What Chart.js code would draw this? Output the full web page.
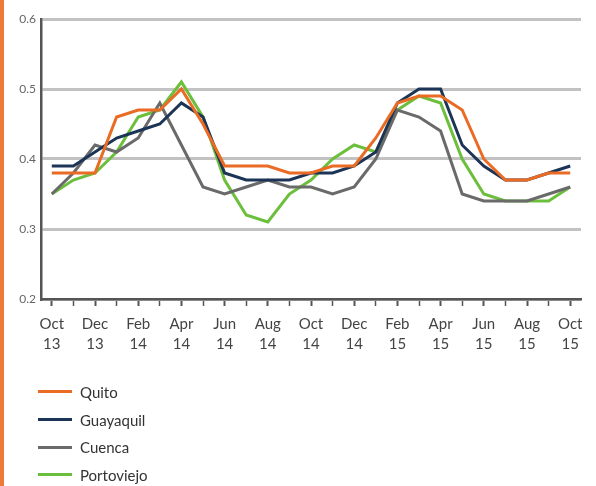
<!DOCTYPE html>
<html>
<head>
<meta charset="utf-8">
<script src="https://cdn.jsdelivr.net/npm/chart.js@4"></script>
<style>
  html, body { margin: 0; padding: 0; background: #ffffff; }
  #wrap { position: relative; width: 592px; height: 486px; border-left: 4px solid #ee7a3a; }
  #legend { position: absolute; left: 34px; top: 378px; font-family: Lato, sans-serif; font-size: 15px; color: #333; }
  #legend div { height: 27.7px; display: flex; align-items: center; }
  #legend span.sw { display: inline-block; width: 34px; height: 3px; margin-right: 8px; }
</style>
</head>
<body>
<div id="wrap">
  <canvas id="chart" width="592" height="486"></canvas>
  <div id="legend"></div>
</div>
<script>
// datos mensuales Oct 13 - Oct 15
const months = ['Oct 13','Nov 13','Dec 13','Jan 14','Feb 14','Mar 14','Apr 14','May 14','Jun 14','Jul 14','Aug 14','Sep 14',
                'Oct 14','Nov 14','Dec 14','Jan 15','Feb 15','Mar 15','Apr 15','May 15','Jun 15','Jul 15','Aug 15','Sep 15','Oct 15'];
const cities = ['Quito', 'Guayaquil', 'Cuenca', 'Portoviejo'];
const colors = ['#ea6b24', '#1c3557', '#6a6a6a', '#6cbf3c'];

const quito      = [0.38,0.38,0.38,0.46,0.47,0.47,0.50,0.45,0.39,0.39,0.39,0.38,0.38,0.39,0.39,0.43,0.48,0.49,0.49,0.47,0.40,0.37,0.37,0.38,0.38];
const guayaquil  = [0.39,0.39,0.41,0.43,0.44,0.45,0.48,0.46,0.38,0.37,0.37,0.37,0.38,0.38,0.39,0.41,0.48,0.50,0.50,0.42,0.39,0.37,0.37,0.38,0.39];
const cuenca     = [0.35,0.38,0.42,0.41,0.43,0.48,0.42,0.36,0.35,0.36,0.37,0.36,0.36,0.35,0.36,0.40,0.47,0.46,0.44,0.35,0.34,0.34,0.34,0.35,0.36];
const portoviejo = [0.35,0.37,0.38,0.41,0.46,0.47,0.51,0.46,0.37,0.32,0.31,0.35,0.37,0.40,0.42,0.41,0.47,0.49,0.48,0.40,0.35,0.34,0.34,0.34,0.36];

const yTicks = [0.2, 0.3, 0.4, 0.5, 0.6];

const series = [quito, guayaquil, cuenca, portoviejo];

new Chart(document.getElementById('chart'), {
    type: 'line',
    data: {
        labels: months,
        datasets: series.map((s, i) => ({
            label: cities[i],
            data: s,
            borderColor: colors[i],
            backgroundColor: colors[i],
            borderWidth: 3,
            pointRadius: 0,
            tension: 0
        }))
    },
    options: {
        responsive: false,
        animation: false,
        layout: { padding: { top: 19, right: 15, left: 0, bottom: 0 } },
        plugins: { legend: { display: false }, tooltip: { enabled: false } },
        scales: {
            x: {
                offset: true,
                afterFit: (scale) => { scale.height = 187; },
                grid: {
                    offset: false,
                    drawOnChartArea: false,
                    tickLength: 7,
                    tickColor: '#555',
                    tickWidth: (ctx) => ctx.index % 2 === 0 ? 2 : 1.5
                },
                border: { color: '#555', width: 2.5 },
                ticks: {
                    autoSkip: false,
                    maxRotation: 0,
                    color: '#444',
                    padding: 8,
                    font: { family: 'Lato', size: 15, lineHeight: 1.35 },
                    callback: function(v, idx) {
                        return idx % 2 === 0 ? months[idx].split(' ') : '';
                    }
                }
            },
            y: {
                min: 0.2,
                max: 0.6,
                afterFit: (scale) => { scale.width = 37; },
                afterBuildTicks: (scale) => { scale.ticks = yTicks.map(v => ({ value: v })); },
                grid: { color: '#c2c2c2', lineWidth: 3, drawTicks: false },
                border: { color: '#555', width: 2.5 },
                ticks: {
                    color: '#666',
                    padding: 5,
                    font: { family: 'Lato', size: 12 },
                    callback: (v) => v.toFixed(1)
                }
            }
        }
    }
});

// leyenda vertical
const legend = document.getElementById('legend');
cities.forEach((c, i) => {
    legend.innerHTML += `<div><span class="sw" style="background:${colors[i]}"></span>${c}</div>`;
});
</script>
</body>
</html>
